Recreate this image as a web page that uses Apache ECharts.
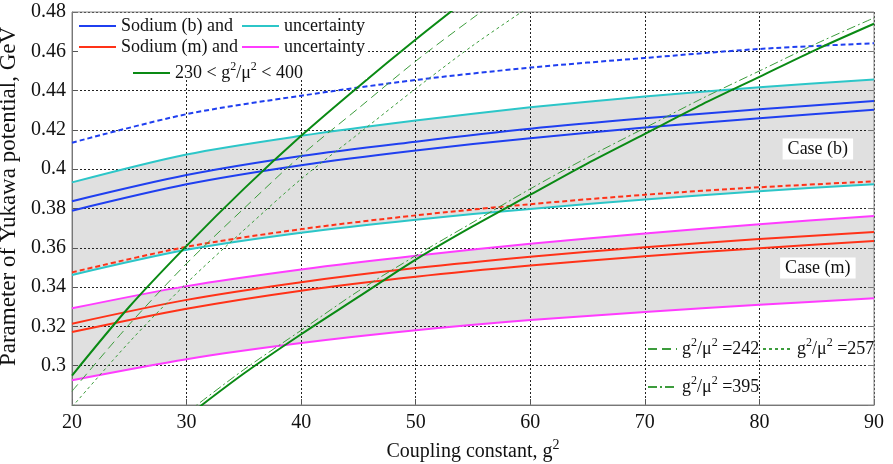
<!DOCTYPE html>
<html><head><meta charset="utf-8">
<script src="https://cdn.jsdelivr.net/npm/echarts@6/dist/echarts.min.js"></script>
<style>html,body{margin:0;padding:0;background:#fff}#c{width:893px;height:464px}</style>
</head><body><div id="c"></div>
<script>
// ---- data ----
const xs = [20, 30, 40, 50, 60, 70, 80, 90];
const xTicks = [20, 30, 40, 50, 60, 70, 80, 90];
const yTicks = [0.3, 0.32, 0.34, 0.36, 0.38, 0.4, 0.42, 0.44, 0.46, 0.48];

const sodiumBUpper  = [0.3837, 0.3970, 0.4067, 0.4140, 0.4206, 0.4259, 0.4305, 0.4347];
const sodiumBLower  = [0.3789, 0.3923, 0.4020, 0.4095, 0.4158, 0.4212, 0.4259, 0.4302];
const sodiumBDashed = [0.4135, 0.4280, 0.4374, 0.4454, 0.4517, 0.4566, 0.4612, 0.4641];
const uncBUpper     = [0.3933, 0.4075, 0.4170, 0.4248, 0.4315, 0.4370, 0.4417, 0.4457];
const uncBLower     = [0.3462, 0.3590, 0.3677, 0.3743, 0.3798, 0.3846, 0.3888, 0.3924];

const sodiumMUpper  = [0.3214, 0.3335, 0.3425, 0.3497, 0.3555, 0.3603, 0.3645, 0.3680];
const sodiumMLower  = [0.3171, 0.3290, 0.3382, 0.3453, 0.3510, 0.3557, 0.3598, 0.3635];
const sodiumMDashed = [0.3475, 0.3605, 0.3695, 0.3765, 0.3822, 0.3870, 0.3908, 0.3938];
const uncMUpper     = [0.3292, 0.3405, 0.3490, 0.3560, 0.3620, 0.3673, 0.3720, 0.3762];
const uncMLower     = [0.2926, 0.3033, 0.3115, 0.3180, 0.3232, 0.3273, 0.3310, 0.3343];

const g230X = [20, 25, 30, 35, 40, 45, 50, 55];
const g230  = [0.295, 0.330, 0.361, 0.390, 0.417, 0.442, 0.466, 0.489];
const g242X = [20, 25, 30, 35, 40, 45, 50, 55, 60];
const g242  = [0.287, 0.321, 0.352, 0.380, 0.407, 0.431, 0.455, 0.477, 0.498];
const g257X = [20, 25, 30, 35, 40, 45, 50, 55, 60];
const g257  = [0.279, 0.312, 0.342, 0.369, 0.395, 0.418, 0.441, 0.463, 0.483];
const g395X = [30, 35, 40, 45, 50, 55, 60, 65, 70, 75, 80, 85, 90];
const g395  = [0.276, 0.298, 0.318, 0.338, 0.356, 0.373, 0.390, 0.406, 0.421, 0.436, 0.450, 0.464, 0.477];
const g400X = [30, 35, 40, 45, 50, 55, 60, 65, 70, 75, 80, 85, 90];
const g400  = [0.274, 0.296, 0.316, 0.335, 0.354, 0.371, 0.387, 0.403, 0.418, 0.433, 0.447, 0.461, 0.474];

// ---- helpers ----
const zip = (x, y) => x.map((v, i) => [v, y[i]]);
const FONT = '"Liberation Serif", "Times New Roman", serif';
const BLUE = '#1f3ff0', CYAN = '#2cc6c8', RED = '#ff3218', MAG = '#ff3cff', GREEN = '#0a8a14', TG = '#3c9c3c';
const SM = 0.3;

function line(name, x, y, color, width, type, extra) {
  return Object.assign({
    type: 'line', name: name, data: zip(x, y), symbol: 'none', showSymbol: false, smooth: SM,
    lineStyle: { color: color, width: width, type: type }, itemStyle: { color: color },
    emphasis: { disabled: true }, z: 5
  }, extra || {});
}
// area under a curve down to the axis minimum (gray for an upper bound, white for a lower bound)
function fill(y, color, z) {
  return {
    type: 'line', data: zip(xs, y), symbol: 'none', showSymbol: false, smooth: SM, silent: true,
    lineStyle: { width: 0, opacity: 0 }, areaStyle: { color: color, opacity: 1, origin: 'start' },
    emphasis: { disabled: true }, z: z
  };
}

const rich = {
  n: { fontFamily: FONT, fontSize: 18, color: '#111' },
  s: { fontFamily: FONT, fontSize: 12, color: '#111', padding: [0, 0, 12, 0] }
};
const labelMap = {
  'uncertainty (b)': '{n|uncertainty}',
  'uncertainty (m)': '{n|uncertainty}',
  'ratio230to400': '{n|230 < g}{s|2}{n|/μ}{s|2}{n| < 400}',
  'ratio242': '{n|g}{s|2}{n|/μ}{s|2}{n| =242}',
  'ratio257': '{n|g}{s|2}{n|/μ}{s|2}{n| =257}',
  'ratio395': '{n|g}{s|2}{n|/μ}{s|2}{n| =395}'
};
function legend(names, left, top, iw) {
  return {
    data: names, left: left, top: top, orient: 'horizontal', padding: 0, z: 8,
    itemWidth: iw, itemHeight: 12, itemGap: 9, selectedMode: false,
    itemStyle: { color: 'transparent', borderColor: 'transparent', borderWidth: 0, opacity: 0 },
    textStyle: { fontFamily: FONT, fontSize: 18, color: '#111', rich: rich },
    formatter: function (n) { return labelMap[n] || ('{n|' + n + '}'); }
  };
}

const chart = echarts.init(document.getElementById('c'), null, { renderer: 'canvas' });
const axisFont = { fontFamily: FONT, fontSize: 20, color: '#111' };
const gridLine = { show: true, lineStyle: { color: '#222', width: 1, type: [2, 2] } };

chart.setOption({
  animation: false,
  backgroundColor: '#fff',
  grid: { left: 72, right: 19, top: 12, bottom: 59, show: true, borderColor: '#888', borderWidth: 1,
    backgroundColor: 'transparent', containLabel: false, outerBoundsMode: 'none', z: 4 },
  xAxis: [{
    type: 'value', min: 20, max: 90, interval: 10, z: 3,
    axisLine: { show: true, lineStyle: { color: '#666' } },
    axisTick: { show: true, inside: true, length: 6, lineStyle: { color: '#555' } },
    axisLabel: { ...axisFont, margin: 8, formatter: v => xTicks.includes(v) ? String(v) : '' },
    splitLine: gridLine,
    name: 'Coupling constant, g{s|2}', nameLocation: 'middle', nameGap: 30,
    nameTextStyle: { fontFamily: FONT, fontSize: 20, color: '#111',
      rich: { s: { fontFamily: FONT, fontSize: 14, color: '#111', padding: [0, 0, 14, 0] } } }
  }],
  yAxis: [{
    type: 'value', min: 0.28, max: 0.48, interval: 0.02, z: 3,
    axisLine: { show: true, lineStyle: { color: '#666' } },
    axisTick: { show: true, inside: true, length: 6, lineStyle: { color: '#555' } },
    axisLabel: { ...axisFont, margin: 6, showMinLabel: false,
      formatter: v => { const r = Math.round(v * 100) / 100; return yTicks.some(t => Math.abs(t - r) < 1e-9) ? String(r) : ''; } },
    splitLine: gridLine,
    name: 'Parameter of Yukawa potential, GeV', nameLocation: 'middle', nameGap: 40,
    nameTextStyle: { fontFamily: FONT, fontSize: 23, color: '#111', padding: [0, 0, 0, 24] }
  }, {
    type: 'value', min: 0.28, max: 0.48, interval: 0.02, position: 'right', z: 3,
    axisLine: { show: false }, axisLabel: { show: false }, splitLine: { show: false },
    axisTick: { show: true, inside: true, length: 6, lineStyle: { color: '#777' } }
  }],
  legend: [
    legend(['Sodium (b) and'], 78, 17, 37),
    legend(['uncertainty (b)'], 241, 17, 37),
    legend(['Sodium (m) and'], 78, 38, 37),
    legend(['uncertainty (m)'], 241, 38, 37),
    legend(['ratio230to400'], 132, 61, 37),
    legend(['ratio242'], 647, 337, 29),
    legend(['ratio257'], 762, 337, 29),
    legend(['ratio395'], 647, 375, 29)
  ],
  graphic: [{
    type: 'rect', left: 80, top: 13, z: 6, silent: true,
    shape: { width: 287, height: 66 }, style: { fill: '#fff' }
  }],
  series: [
    fill(uncBUpper, '#e0e0e0', 1),
    fill(uncBLower, '#ffffff', 1.2),
    fill(uncMUpper, '#e0e0e0', 1.4),
    fill(uncMLower, '#ffffff', 1.6),
    line('uncertainty (b)', xs, uncBUpper, CYAN, 2, 'solid'),
    line('uncertainty (b)', xs, uncBLower, CYAN, 2, 'solid'),
    line('uncertainty (m)', xs, uncMUpper, MAG, 2, 'solid'),
    line('uncertainty (m)', xs, uncMLower, MAG, 2, 'solid'),
    line('Sodium (b) and', xs, sodiumBUpper, BLUE, 2, 'solid'),
    line('Sodium (b) and', xs, sodiumBLower, BLUE, 2, 'solid'),
    line('sodiumBDashed', xs, sodiumBDashed, BLUE, 2, [5, 3]),
    line('Sodium (m) and', xs, sodiumMUpper, RED, 2, 'solid'),
    line('Sodium (m) and', xs, sodiumMLower, RED, 2, 'solid'),
    line('sodiumMDashed', xs, sodiumMDashed, RED, 2, [5, 3]),
    line('ratio242', g242X, g242, TG, 1, [9, 5]),
    line('ratio257', g257X, g257, TG, 1, [3, 3]),
    line('ratio395', g395X, g395, TG, 1, [9, 3, 2, 3]),
    line('ratio230to400', g230X, g230, GREEN, 2, 'solid'),
    line('ratio230to400', g400X, g400, GREEN, 2, 'solid', {
      markPoint: {
        symbol: 'rect', symbolSize: [1, 1], itemStyle: { color: 'transparent' }, silent: true,
        label: { show: true, position: 'inside', fontFamily: FONT, fontSize: 18, color: '#111',
          backgroundColor: '#fff', padding: [2, 5, 1, 5] },
        data: [
          { coord: [85.1, 0.4103], value: 'Case (b)', label: { formatter: 'Case (b)' } },
          { coord: [85.1, 0.3497], value: 'Case (m)', label: { formatter: 'Case (m)' } }
        ]
      }
    })
  ]
});
</script></body></html>
